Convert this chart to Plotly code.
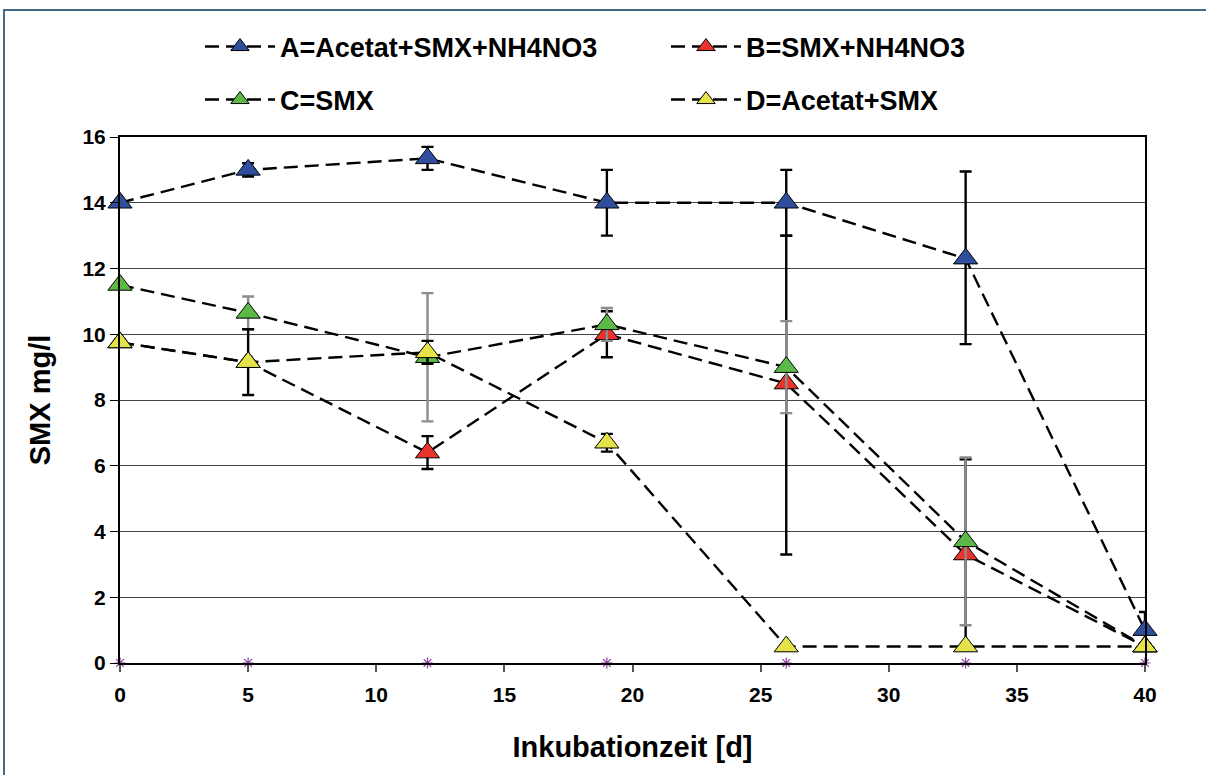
import plotly.graph_objects as go

days = [0, 5, 12, 19, 26, 33, 40]

a_vals = [14.0, 15.0, 15.35, 14.0, 14.0, 12.3, 1.0]
b_vals = [9.75, 9.15, 6.4, 10.0, 8.5, 3.3, 0.5]
c_vals = [11.5, 10.65, 9.3, 10.3, 9.0, 3.7, 0.5]
d_vals = [9.75, 9.15, 9.45, 6.7, 0.5, 0.5, 0.5]
e_vals = [0, 0, 0, 0, 0, 0, 0]

a_err = [0, 0.2, 0.35, 1.0, 1.0, 2.65, 0.55]
a_err_minus = [0, 0.2, 0.35, 1.0, 1.0, 2.6, 0.5]
b_err = [0, 0, 0.5, 0.7, 4.5, 2.9, 0]
b_err_minus = [0, 0, 0.5, 0.7, 5.2, 2.9, 0]
c_err = [0, 0.5, 1.95, 0.5, 1.4, 2.55, 0]
d_err = [0, 1.0, 0.35, 0.27, 0, 0, 0]

names = ["A=Acetat+SMX+NH4NO3", "B=SMX+NH4NO3", "C=SMX", "D=Acetat+SMX"]
colors = ["#2f4f9e", "#e8322a", "#5cb947", "#e6e34a"]

FONT = "Liberation Sans, Arial, sans-serif"

W, H = 1206, 775
L, R, T, B = 120, 61, 137, 112
pw, ph = W - L - R, H - T - B


def px_x(p):
    return (p - L) / pw


def px_y(p):
    return (H - B - p) / ph


fig = go.Figure()

fig.add_trace(go.Scatter(
    x=days, y=e_vals, mode="markers", showlegend=False,
    marker=dict(symbol="asterisk-open", size=9, color="#8a3fa0",
                line=dict(color="#8a3fa0", width=1.2)),
    cliponaxis=False,
))

series = [
    (a_vals, a_err, a_err_minus, "black"),
    (b_vals, b_err, b_err_minus, "black"),
    (c_vals, c_err, c_err, "#8c8c8c"),
    (d_vals, d_err, d_err, "black"),
]
legend_ids = ["legend", "legend2", "legend3", "legend4"]
legend_pos = [(200, 47), (666, 47), (200, 100), (666, 100)]

for (vals, ep, em, ecol), name, col, lg in zip(series, names, colors, legend_ids):
    fig.add_trace(go.Scatter(
        x=days, y=vals, name=name, mode="lines+markers",
        line=dict(color="black", width=2.4, dash="14px,7px"),
        marker=dict(symbol="triangle-up", size=21, color=col,
                    line=dict(color="black", width=1)),
        error_y=dict(type="data", symmetric=False, array=ep, arrayminus=em,
                     color=ecol, thickness=2.4, width=6),
        cliponaxis=False,
        legend=lg,
    ))

fig.add_shape(type="rect", xref="paper", yref="paper",
              x0=px_x(4), x1=px_x(1215), y0=px_y(785), y1=px_y(10),
              line=dict(color="#3f6b87", width=2), fillcolor="rgba(0,0,0,0)",
              layer="below")

legends = {}
for lg, (lx, ly) in zip(legend_ids, legend_pos):
    legends[lg] = dict(
        x=px_x(lx), y=px_y(ly), xanchor="left", yanchor="middle",
        orientation="h", itemwidth=70,
        font=dict(family=FONT, size=27, color="black", weight="bold"),
        bgcolor="rgba(0,0,0,0)", borderwidth=0, itemclick=False,
        itemdoubleclick=False,
    )

fig.update_layout(
    width=W, height=H,
    margin=dict(l=L, r=R, t=T, b=B),
    paper_bgcolor="white", plot_bgcolor="white",
    font=dict(family=FONT, color="black"),
    xaxis=dict(
        range=[0, 40], dtick=5, tick0=0,
        showline=True, linecolor="black", linewidth=2, mirror=True,
        ticks="outside", ticklen=7, tickcolor="#555555", tickwidth=2,
        ticklabelstandoff=5,
        showgrid=False, zeroline=False,
        tickfont=dict(family=FONT, size=21, color="black", weight="bold"),
        title=dict(text="Inkubationzeit [d]", standoff=31,
                   font=dict(family=FONT, size=29, color="black", weight="bold")),
    ),
    yaxis=dict(
        range=[0, 16], dtick=2, tick0=0,
        showline=True, linecolor="black", linewidth=2, mirror=True,
        ticks="outside", ticklen=8, tickcolor="black", tickwidth=1,
        showgrid=True, gridcolor="#444444", gridwidth=1, zeroline=False,
        tickfont=dict(family=FONT, size=21, color="black", weight="bold"),
        title=dict(text="SMX mg/l", standoff=23,
                   font=dict(family=FONT, size=29, color="black", weight="bold")),
    ),
    **legends,
)

fig.write_html("out.html", config={"displayModeBar": False},
               post_script="document.body.style.margin='0';document.body.style.padding='0';")
